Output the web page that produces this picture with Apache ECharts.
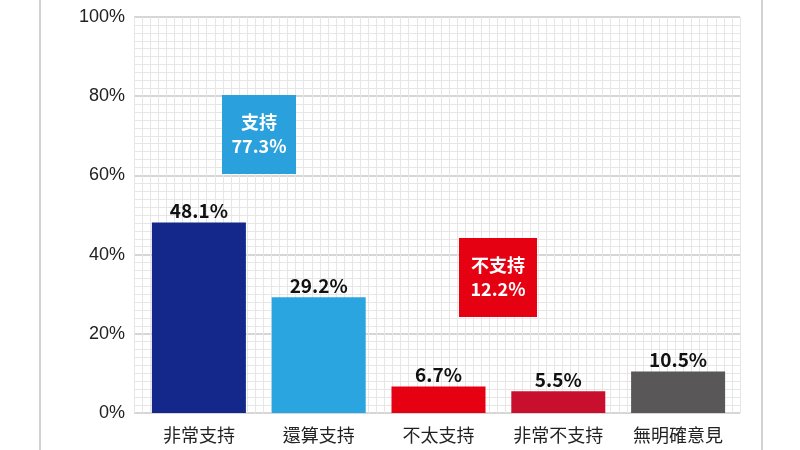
<!DOCTYPE html>
<html>
<head>
<meta charset="utf-8">
<script src="https://cdn.jsdelivr.net/npm/echarts@6/dist/echarts.min.js"></script>
<style>
  html, body { margin: 0; padding: 0; background: #fff; }
  #chart { width: 800px; height: 450px; }
</style>
</head>
<body>
<div id="chart"></div>
<script>
// 資料
var categories = ['非常支持', '還算支持', '不太支持', '非常不支持', '無明確意見'];
var values = [48.1, 29.2, 6.7, 5.5, 10.5];
var barColors = ['#13288a', '#2aa5df', '#e50012', '#c8102e', '#595757'];
var yTicks = [0, 20, 40, 60, 80, 100];
var groupNames = ['支持', '不支持'];
var groupValues = [77.3, 12.2];

var font = '"Liberation Sans", "Noto Sans CJK TC", sans-serif';
var boldFont = '"Noto Sans CJK TC", sans-serif';

window.onload = function () {
  drawChart();
};

function drawChart() {
  var myChart = echarts.init(document.getElementById('chart'));

  var option = {
    animation: false,
    grid: [
      { left: 134, right: 60, top: 17, bottom: 37 },  // 背景方格
      { left: 139, right: 62, top: 17, bottom: 37 }   // 長條
    ],
    xAxis: [
      {
        // 背景方格（直線）
        type: 'value',
        gridIndex: 0,
        position: 'top',
        min: 0,
        max: 75,
        interval: 1,
        axisLine: { show: false },
        axisTick: { show: false },
        axisLabel: { show: false },
        splitLine: { show: true, lineStyle: { color: '#e6e6e6', width: 1 } }
      },
      {
        type: 'category',
        gridIndex: 1,
        data: categories,
        axisLine: { show: false },
        axisTick: { show: false },
        axisLabel: { fontSize: 18, color: '#222', fontFamily: font, margin: 15 }
      }
    ],
    yAxis: [
      {
        type: 'value',
        gridIndex: 0,
        min: yTicks[0],
        max: yTicks[yTicks.length - 1],
        interval: 20,
        axisLine: { show: false },
        axisTick: { show: false },
        axisLabel: {
          fontSize: 18, color: '#222', fontFamily: font, margin: 9,
          formatter: function (v) { return v + '%'; }
        },
        splitLine: { show: true, lineStyle: { color: '#d6d6d6', width: 2 } },
        minorTick: { show: false, splitNumber: 10 },
        minorSplitLine: { show: true, lineStyle: { color: '#e6e6e6', width: 1 } }
      },
      {
        type: 'value',
        gridIndex: 1,
        min: yTicks[0],
        max: yTicks[yTicks.length - 1],
        interval: 20,
        axisLine: { show: false },
        axisTick: { show: false },
        axisLabel: { show: false },
        splitLine: { show: false }
      }
    ],
    series: [
      {
        type: 'bar',
        xAxisIndex: 1,
        yAxisIndex: 1,
        barWidth: 94,
        z: 5,
        data: values.map(function (v, i) {
          return { value: v, itemStyle: { color: barColors[i] } };
        }),
        label: {
          show: true,
          position: 'top',
          distance: 2,
          fontSize: 19,
          fontWeight: 'bold',
          color: '#111',
          fontFamily: boldFont,
          formatter: function (p) { return p.value.toFixed(1) + '%'; }
        }
      }
    ],
    graphic: [
      {
        type: 'rect', z: 100,
        shape: { x: 222, y: 95, width: 74, height: 79 },
        style: { fill: '#2aa0dc' }
      },
      {
        type: 'text', z: 101,
        x: 259, y: 134,
        style: {
          text: groupNames[0] + '\n' + groupValues[0].toFixed(1) + '%',
          fill: '#fff', font: 'bold 18px ' + boldFont,
          align: 'center', verticalAlign: 'middle', lineHeight: 24
        }
      },
      {
        type: 'rect', z: 100,
        shape: { x: 459, y: 238, width: 78, height: 79 },
        style: { fill: '#e50012' }
      },
      {
        type: 'text', z: 101,
        x: 498, y: 277,
        style: {
          text: groupNames[1] + '\n' + groupValues[1].toFixed(1) + '%',
          fill: '#fff', font: 'bold 18px ' + boldFont,
          align: 'center', verticalAlign: 'middle', lineHeight: 24
        }
      },
      // 兩側邊框線
      { type: 'rect', z: 100, shape: { x: 39, y: 0, width: 2, height: 450 }, style: { fill: '#d2d2d2' } },
      { type: 'rect', z: 100, shape: { x: 761, y: 0, width: 2, height: 450 }, style: { fill: '#d2d2d2' } }
    ]
  };

  myChart.setOption(option);
}
</script>
</body>
</html>
